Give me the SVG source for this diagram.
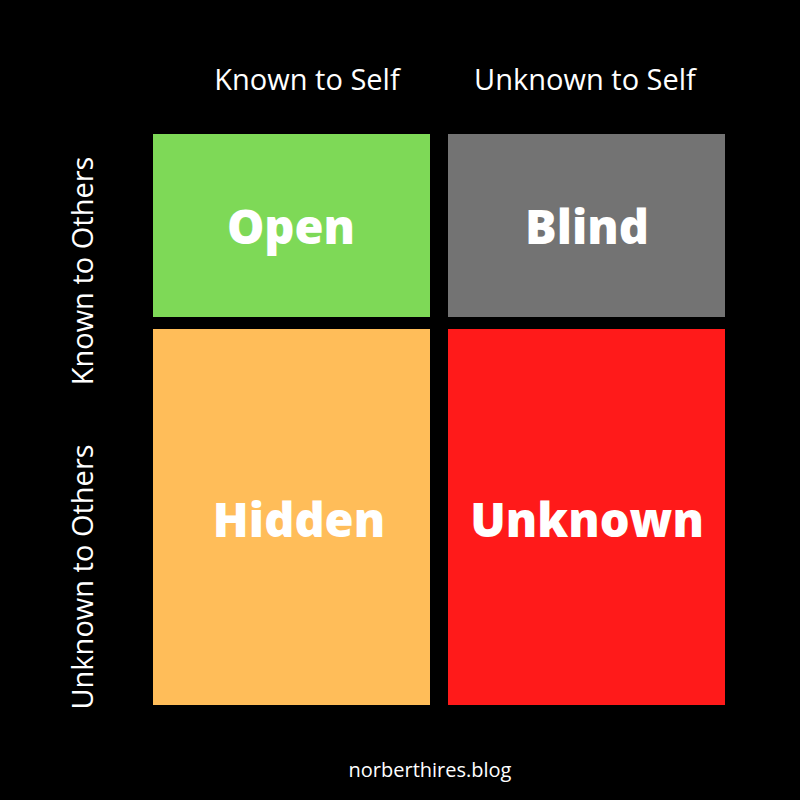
<svg xmlns="http://www.w3.org/2000/svg" width="800" height="800" viewBox="0 0 800 800">
<style>
.lbl{font-family:"Open Sans","Noto Sans",sans-serif;fill:#ffffff;font-size:29px;text-anchor:middle}
.big{font-family:"Open Sans","Noto Sans",sans-serif;fill:#ffffff;font-size:47px;font-weight:800;text-anchor:middle}
.foot{font-family:"Open Sans","Noto Sans",sans-serif;fill:#ffffff;font-size:20px;text-anchor:middle}
</style>
<rect x="0" y="0" width="800" height="800" fill="#000000"/>
<text class="lbl" x="307" y="90">Known to Self</text>
<text class="lbl" x="585" y="90">Unknown to Self</text>
<text class="lbl" transform="translate(93,271) rotate(-90)">Known to Others</text>
<text class="lbl" transform="translate(93,577) rotate(-90)">Unknown to Others</text>
<g id="open"><rect x="153" y="134" width="277" height="183" fill="#7ED957"/><text class="big" x="291" y="244">Open</text></g>
<g id="blind"><rect x="448" y="134" width="277" height="183" fill="#737373"/><text class="big" x="587" y="244">Blind</text></g>
<g id="hidden"><rect x="153" y="329" width="277" height="376" fill="#FFBD59"/><text class="big" x="299" y="537">Hidden</text></g>
<g id="unknown"><rect x="448" y="329" width="277" height="376" fill="#FF1A1A"/><text class="big" x="587" y="537">Unknown</text></g>
<g id="connectors"></g>
<text class="foot" x="430" y="777">norberthires.blog</text>
</svg>
